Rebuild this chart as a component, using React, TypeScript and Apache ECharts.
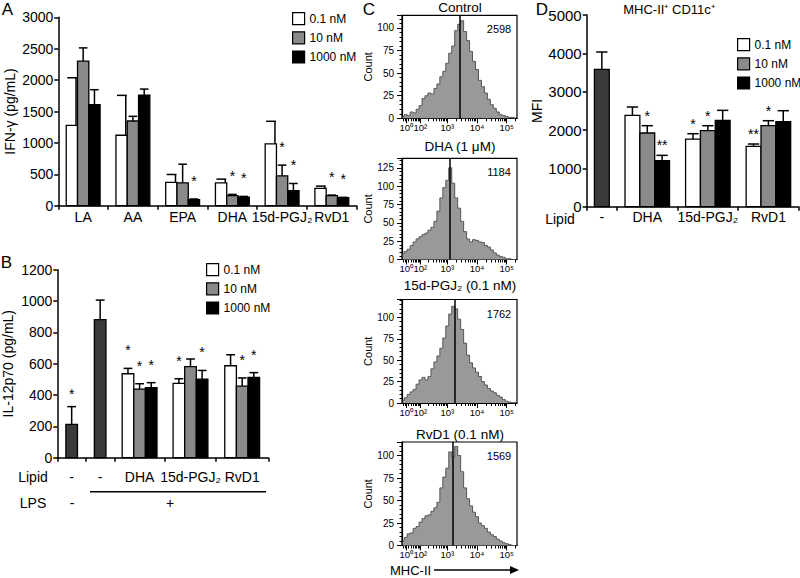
import React, { useEffect, useRef } from 'react';
import * as echarts from 'echarts';

const FONT = '"Liberation Sans", Arial, Helvetica, sans-serif';

// ---------- Panel A : IFN-gamma ----------
const aCategories = ['LA', 'AA', 'EPA', 'DHA', '15d-PGJ₂', 'RvD1'];
const aBounds = [0, 1, 2, 3, 4, 5, 6];
const aLow = [1280, 1122, 370, 365, 984, 275];
const aLowErr = [757, 635, 127, 58, 360, 37];
const aLowSig = ['', '', '', '', '', ''];
const aMid = [2302, 1349, 365, 159, 476, 159];
const aMidErr = [211, 74, 296, 21, 170, 10];
const aMidSig = ['', '', '', '*', '*', '*'];
const aHigh = [1608, 1762, 95, 138, 238, 127];
const aHighErr = [239, 95, 12, 10, 116, 6];
const aHighSig = ['', '', '*', '*', '*', '*'];

// ---------- Panel B : IL-12p70 ----------
const bGroups = ['-', '-', 'DHA', '15d-PGJ₂', 'RvD1'];
const bBounds = [0, 1.09, 2.16, 4.08, 6.02, 8];
const bCtrl = [213, 881];
const bCtrlErr = [113, 125];
const bCtrlSig = ['*', ''];
const bLow = [536, 474, 587];
const bLowErr = [34, 30, 70];
const bLowSig = ['*', '*', ''];
const bMid = [438, 581, 457];
const bMidErr = [34, 49, 52];
const bMidSig = ['*', '', '*'];
const bHigh = [447, 502, 513];
const bHighErr = [32, 55, 30];
const bHighSig = ['*', '*', '*'];

// ---------- Panel D : MFI ----------
const dGroups = ['-', 'DHA', '15d-PGJ₂', 'RvD1'];
const dBounds = [0, 1, 3, 5, 7];
const dCtrl = [3583];
const dCtrlErr = [452];
const dCtrlSig = [''];
const dLow = [2383, 1765, 1574];
const dLowErr = [217, 139, 61];
const dLowSig = ['', '*', '**'];
const dMid = [1922, 1983, 2113];
const dMidErr = [191, 130, 130];
const dMidSig = ['*', '*', '*'];
const dHigh = [1200, 2252, 2217];
const dHighErr = [139, 261, 287];
const dHighSig = ['**', '', ''];

// ---------- Panel C : histograms (x in display decades) ----------
const cBins = [1.5, 1.6, 1.7, 1.8, 1.9, 2.0, 2.1, 2.2, 2.3, 2.4, 2.5, 2.6, 2.7, 2.8, 2.9, 3.0, 3.1, 3.2, 3.3, 3.4,
  3.5, 3.6, 3.7, 3.8, 3.9, 4.0, 4.1, 4.2, 4.3, 4.4, 4.5, 4.6, 4.7, 4.8, 4.9, 5.0, 5.1, 5.2, 5.3];
const cControl = [2, 4, 3, 7, 6, 10, 14, 22, 25, 28, 27, 33, 38, 46, 52, 61, 72, 80, 97, 104,
  108, 96, 86, 74, 63, 54, 42, 35, 28, 21, 15, 11, 7, 4, 3, 2, 1, 1, 0];
const cDHA = [8, 11, 14, 19, 24, 28, 31, 34, 36, 40, 44, 52, 66, 84, 98, 108, 125, 104, 84, 70,
  52, 38, 28, 24, 27, 26, 24, 23, 19, 17, 13, 9, 6, 4, 3, 1, 1, 0, 0];
const c15d = [3, 6, 10, 13, 16, 22, 27, 30, 27, 31, 40, 48, 55, 64, 76, 90, 104, 113, 110, 98,
  86, 70, 56, 47, 41, 36, 31, 25, 21, 17, 14, 12, 9, 7, 4, 2, 1, 0, 0];
const cRvD1 = [5, 9, 13, 14, 19, 21, 26, 30, 33, 34, 38, 42, 48, 64, 76, 86, 104, 98, 110, 100,
  82, 64, 52, 44, 37, 32, 25, 22, 19, 15, 12, 10, 7, 5, 3, 2, 1, 0, 0];
const cTitles = ['Control', 'DHA (1 μM)', '15d-PGJ₂ (0.1 nM)', 'RvD1 (0.1 nM)'];
const cMedians = [2598, 1184, 1762, 1569];
const cYMax = [114, 138, 121, 115];
const cXTickPos = [1.615, 2.095, 3, 4, 5];
const cXTickLabels = ['10⁰', '10²', '10³', '10⁴', '10⁵'];
const cLinearTicks = [1.53, 1.58, 1.7, 1.78, 1.85, 1.91, 1.96, 2.01, 2.05];

// ---------- layout (pixels) ----------
const cLeft = 402;
const cWidth = 115;
const cTops = [15.3, 158.3, 299.5, 442];
const cHeights = [103, 101.2, 103.5, 103.5];
const cTitleY = [7.5, 146.5, 285, 434];

const COL_LOW = '#ffffff';
const COL_MID = '#8a8a8a';
const COL_HIGH = '#000000';
const COL_CTRL = '#3a3a3a';

function centers(bounds: number[]) {
  const out: number[] = [];
  for (let i = 0; i < bounds.length - 1; i++) out.push((bounds[i] + bounds[i + 1]) / 2);
  return out;
}

function nearestLabel(pos: number[], labels: string[]) {
  return (v: number) => {
    let bi = 0;
    pos.forEach((p, i) => {
      if (Math.abs(p - v) < Math.abs(pos[bi] - v)) bi = i;
    });
    return labels[bi];
  };
}

function bars(
  name: string, xi: number, xs: number[], vals: number[], errs: number[], sigs: string[],
  color: string, bw: number, starOff: number, whiskerRight = false
) {
  return {
    type: 'custom',
    name,
    xAxisIndex: xi,
    yAxisIndex: xi,
    itemStyle: { color },
    encode: { x: 0, y: 1 },
    data: xs.map((x, i) => [x, vals[i], errs[i]]),
    renderItem: (params: any, api: any) => {
      const x = api.value(0);
      const v = api.value(1);
      const e = api.value(2);
      const tl = api.coord([x - bw / 2, v]);
      const br = api.coord([x + bw / 2, 0]);
      const w = br[0] - tl[0];
      const cx = (tl[0] + br[0]) / 2;
      const et = api.coord([x, v + e])[1];
      const children: any[] = [];
      if (e > 0) {
        const wx = whiskerRight ? br[0] - 1.5 : cx;
        const c1 = whiskerRight ? tl[0] + 1 : cx - w * 0.38;
        const c2 = whiskerRight ? br[0] - 0.5 : cx + w * 0.38;
        children.push({ type: 'line', shape: { x1: wx, y1: tl[1], x2: wx, y2: et }, style: { stroke: '#000', lineWidth: 1.5 } });
        children.push({ type: 'line', shape: { x1: c1, y1: et, x2: c2, y2: et }, style: { stroke: '#000', lineWidth: 1.5 } });
      }
      children.push({
        type: 'rect',
        shape: { x: tl[0], y: tl[1], width: w, height: br[1] - tl[1] },
        style: { fill: color, stroke: '#000', lineWidth: 1.3 },
      });
      const s = sigs[params.dataIndex];
      if (s) {
        children.push({
          type: 'text',
          style: { text: s, x: cx, y: et - starOff, align: 'center', verticalAlign: 'middle', font: `14px ${FONT}`, fill: '#000' },
        });
      }
      return { type: 'group', children };
    },
  };
}

function barXAxis(gi: number, bounds: number[], labels: string[], margin: number) {
  const cs = centers(bounds);
  return {
    type: 'value', gridIndex: gi, min: bounds[0], max: bounds[bounds.length - 1],
    axisLine: { show: true, onZero: false, lineStyle: { color: '#000', width: 1.5 } },
    axisTick: { show: true, customValues: bounds, length: 4, lineStyle: { color: '#000', width: 1.5 } },
    axisLabel: {
      show: true, customValues: cs, formatter: nearestLabel(cs, labels), hideOverlap: false,
      showMinLabel: true, showMaxLabel: true,
      fontSize: 14, color: '#000', fontFamily: FONT, margin,
    },
    splitLine: { show: false },
  };
}

function barYAxis(gi: number, max: number, interval: number, name: string, nameGap: number, fs = 14) {
  return {
    type: 'value', gridIndex: gi, min: 0, max, interval,
    axisLine: { show: true, lineStyle: { color: '#000', width: 1.5 } },
    axisTick: { show: true, length: 4, lineStyle: { color: '#000', width: 1.5 } },
    axisLabel: { fontSize: fs, color: '#000', fontFamily: FONT, margin: 5, formatter: (v: number) => String(v) },
    splitLine: { show: false },
    name, nameLocation: 'middle', nameGap, nameRotate: 90,
    nameTextStyle: { fontSize: 14, color: '#000', fontFamily: FONT },
  };
}

function legendAt(left: number, top: number) {
  return {
    data: ['0.1 nM', '10 nM', '1000 nM'],
    left, top, orient: 'vertical', padding: 0,
    itemWidth: 12, itemHeight: 12, itemGap: 6, icon: 'rect', selectedMode: false,
    itemStyle: { borderColor: '#000', borderWidth: 1.2 },
    textStyle: { fontSize: 12, color: '#000', fontFamily: FONT },
  };
}

const txt = (text: string, x: number, y: number, size: number, align = 'center') => ({
  type: 'text', x, y, silent: true,
  style: { text, fill: '#000', font: `${size}px ${FONT}`, align, verticalAlign: 'middle' },
});

export default function App() {
  const ref = useRef<HTMLDivElement>(null);
  useEffect(() => {
    if (!ref.current) return;
    const chart = echarts.init(ref.current, undefined, { renderer: 'svg' });

    const aC = centers(aBounds);
    const bC = centers(bBounds);
    const dC = centers(dBounds);
    const bwA = 0.227, bwB = 0.44, bwD = 0.49;
    const bL = bC.slice(2);
    const dL = dC.slice(1);

    const grids: any[] = [
      { left: 58.3, top: 17.3, width: 298.4, height: 188.4 },
      { left: 57.3, top: 269.7, width: 211, height: 188 },
      { left: 586.7, top: 15, width: 212, height: 191.7 },
    ];
    const xAxes: any[] = [
      barXAxis(0, aBounds, aCategories, 4),
      barXAxis(1, bBounds, bGroups, 12),
      barXAxis(2, dBounds, dGroups, 3),
    ];
    const yAxes: any[] = [
      barYAxis(0, 3000, 500, 'IFN-γ (pg/mL)', 41),
      barYAxis(1, 1200, 200, 'IL-12p70 (pg/mL)', 42),
      barYAxis(2, 5000, 1000, 'MFI', 42, 15),
    ];
    const series: any[] = [
      bars('0.1 nM', 0, aC.map((c) => c - bwA), aLow, aLowErr, aLowSig, COL_LOW, bwA, 18, true),
      bars('10 nM', 0, aC, aMid, aMidErr, aMidSig, COL_MID, bwA, 18),
      bars('1000 nM', 0, aC.map((c) => c + bwA), aHigh, aHighErr, aHighSig, COL_HIGH, bwA, 18),
      bars('control', 1, bC.slice(0, 2), bCtrl, bCtrlErr, bCtrlSig, COL_CTRL, bwB, 13),
      bars('0.1 nM', 1, bL.map((c) => c - bwB), bLow, bLowErr, bLowSig, COL_LOW, bwB, 18),
      bars('10 nM', 1, bL, bMid, bMidErr, bMidSig, COL_MID, bwB, 18),
      bars('1000 nM', 1, bL.map((c) => c + bwB), bHigh, bHighErr, bHighSig, COL_HIGH, bwB, 18),
      bars('control', 2, dC.slice(0, 1), dCtrl, dCtrlErr, dCtrlSig, COL_CTRL, bwD, 10),
      bars('0.1 nM', 2, dL.map((c) => c - bwD), dLow, dLowErr, dLowSig, COL_LOW, bwD, 10),
      bars('10 nM', 2, dL, dMid, dMidErr, dMidSig, COL_MID, bwD, 10),
      bars('1000 nM', 2, dL.map((c) => c + bwD), dHigh, dHighErr, dHighSig, COL_HIGH, bwD, 10),
    ];

    // minor log ticks for histogram x axes
    const minor: number[] = [...cLinearTicks];
    for (let k = 2; k <= 9; k++) {
      minor.push(2.08 + 0.92 * Math.log10(k));
      minor.push(3 + Math.log10(k));
      minor.push(4 + Math.log10(k));
    }
    minor.push(5 + Math.log10(2));

    // first label (10⁰) is drawn by the minor-tick axis so it is not hidden by the overlap check
    const firstPos = cXTickPos.slice(0, 1);
    const restPos = cXTickPos.slice(1);
    const labelFmt = nearestLabel(cXTickPos, cXTickLabels);

    const hists = [cControl, cDHA, c15d, cRvD1];
    hists.forEach((counts, i) => {
      const gi = 3 + i;
      grids.push({ left: cLeft, top: cTops[i], width: cWidth, height: cHeights[i], show: true, borderColor: '#000', borderWidth: 1.2 });
      const xMajor = xAxes.length;
      xAxes.push({
        type: 'value', gridIndex: gi, min: 1.475, max: 5.347, position: 'bottom',
        axisLine: { show: true, onZero: false, lineStyle: { color: '#000', width: 1.2 } },
        axisTick: { show: true, customValues: cXTickPos, length: 5, lineStyle: { color: '#000', width: 1 } },
        axisLabel: {
          show: true, customValues: restPos, formatter: labelFmt,
          hideOverlap: false, showMinLabel: true, showMaxLabel: true,
          fontSize: 9.5, color: '#000', fontFamily: FONT, margin: 4,
        },
        splitLine: { show: false },
      });
      xAxes.push({
        type: 'value', gridIndex: gi, min: 1.475, max: 5.347, position: 'bottom',
        axisLine: { show: false },
        axisTick: { show: true, customValues: minor, length: 3, lineStyle: { color: '#000', width: 1 } },
        axisLabel: {
          show: true, customValues: firstPos, formatter: labelFmt,
          hideOverlap: false, showMinLabel: true, showMaxLabel: true,
          fontSize: 9.5, color: '#000', fontFamily: FONT, margin: 4,
        },
        splitLine: { show: false },
      });
      const yi = yAxes.length;
      yAxes.push({
        type: 'value', gridIndex: gi, min: 0, max: cYMax[i], interval: 25,
        axisLine: { show: true, onZero: false, lineStyle: { color: '#000', width: 1.2 } },
        axisTick: { show: true, length: 5, lineStyle: { color: '#000', width: 1 } },
        minorTick: { show: true, splitNumber: 5, length: 2.5, lineStyle: { color: '#000', width: 1 } },
        axisLabel: {
          fontSize: 10, color: '#000', fontFamily: FONT, margin: 8, showMaxLabel: false,
          formatter: (v: number) => (v % 25 === 0 ? String(v) : ''),
        },
        splitLine: { show: false },
        name: 'Count', nameLocation: 'middle', nameGap: 24, nameRotate: 90,
        nameTextStyle: { fontSize: 11, color: '#000', fontFamily: FONT },
      });
      series.push({
        type: 'line', name: cTitles[i], xAxisIndex: xMajor, yAxisIndex: yi,
        data: cBins.map((b, j) => [b, counts[j]]),
        step: 'middle', symbol: 'none', silent: true,
        lineStyle: { color: '#555', width: 1 },
        areaStyle: { color: '#999', opacity: 1 },
        markLine: {
          silent: true, symbol: ['none', 'none'], label: { show: false },
          lineStyle: { color: '#000', width: 1.5, type: 'solid' },
          data: [{ xAxis: Math.log10(cMedians[i]) }],
        },
      });
    });

    const graphic: any[] = [
      txt('A', 7.5, 9.5, 17),
      txt('B', 6.5, 262, 17),
      txt('C', 369, 9.5, 17),
      txt('D', 542, 9.5, 17),
      txt('MHC-II⁺ CD11c⁺', 669, 9, 13),
      txt('Lipid', 560, 219, 14),
      txt('Lipid', 33, 477, 14),
      txt('LPS', 33, 503, 14),
      txt('-', 72, 503, 14),
      txt('+', 170, 503, 14),
      { type: 'line', silent: true, shape: { x1: 90, y1: 491.7, x2: 266, y2: 491.7 }, style: { stroke: '#000', lineWidth: 1.5 } },
      txt('MHC-II', 390, 570, 13, 'left'),
      { type: 'line', silent: true, shape: { x1: 434, y1: 570, x2: 512, y2: 570 }, style: { stroke: '#000', lineWidth: 1.3 } },
      { type: 'polygon', silent: true, shape: { points: [[510, 566], [519, 570], [510, 574]] }, style: { fill: '#000' } },
    ];
    cTitles.forEach((t, i) => graphic.push(txt(t, 460, cTitleY[i], 13.5)));
    cMedians.forEach((m, i) => graphic.push(txt(String(m), 499, cTops[i] + 14, 11)));

    chart.setOption({
      animation: false,
      textStyle: { fontFamily: FONT },
      grid: grids,
      xAxis: xAxes,
      yAxis: yAxes,
      legend: [legendAt(292, 12), legendAt(206, 263), legendAt(737, 38)],
      series,
      graphic,
    });
    return () => chart.dispose();
  }, []);
  return (
    <div
      ref={ref}
      style={{ position: 'fixed', left: 0, top: 0, width: 800, height: 578, background: '#fff' }}
    />
  );
}
